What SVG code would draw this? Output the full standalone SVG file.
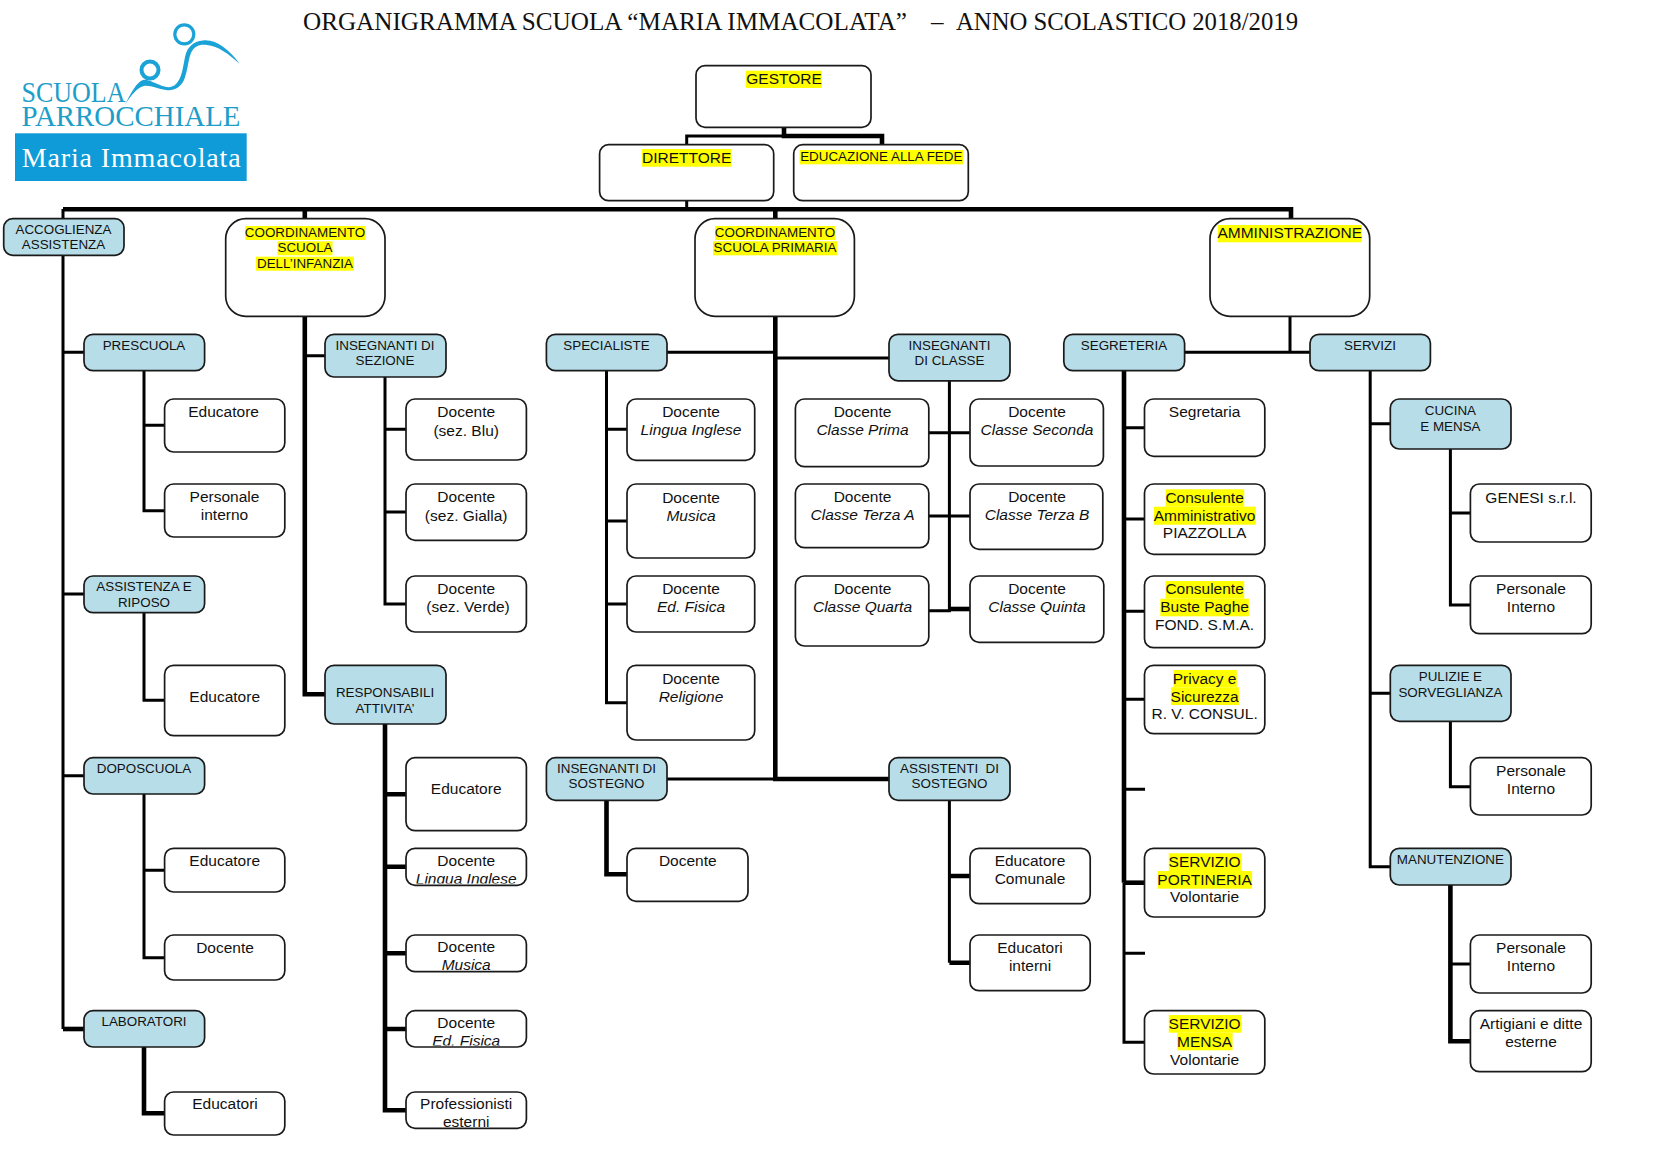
<svg xmlns="http://www.w3.org/2000/svg" width="1654" height="1150" viewBox="0 0 1654 1150">
<style>
text{font-family:"Liberation Sans",Arial,sans-serif;fill:#111;text-anchor:middle}
.w{font-size:15.5px}
.b{font-size:13.4px}
.y{font-size:13.4px}
.i{font-style:italic}
.t{font-family:"Liberation Serif","Times New Roman",serif;font-size:25px;text-anchor:start}
.l{font-family:"Liberation Serif","Times New Roman",serif;text-anchor:start}
rect.n{fill:#fff;stroke:#1a1a1a;stroke-width:1.7;rx:9px}
rect.a{fill:#b7dde8}
rect.r{rx:20px}
rect.h{fill:#ff0}
.c{fill:none;stroke:#000;stroke-width:3}
.k{fill:none;stroke:#000;stroke-width:4.6}
</style>
<defs>
<clipPath id="c1"><rect x="406" y="848" width="120" height="35.5"/></clipPath>
<clipPath id="c2"><rect x="406" y="935" width="120" height="35"/></clipPath>
<clipPath id="c3"><rect x="406" y="1010" width="120" height="35.5"/></clipPath>
</defs>
<g id="title"><text class="t" x="303" y="29.5" textLength="604" lengthAdjust="spacingAndGlyphs">ORGANIGRAMMA SCUOLA “MARIA IMMACOLATA”</text><text class="t" x="931" y="29.5">–</text><text class="t" x="956" y="29.5" textLength="342" lengthAdjust="spacingAndGlyphs">ANNO SCOLASTICO 2018/2019</text></g>
<g id="logo">
<rect x="15" y="133.3" width="231.7" height="47.7" fill="#0f9bd7"/>
<text class="l" x="21.7" y="167.3" font-size="28" style="fill:#fff" textLength="219" lengthAdjust="spacing">Maria Immacolata</text>
<text class="l" x="21.5" y="101.7" font-size="30" style="fill:#1d9ec9" textLength="104" lengthAdjust="spacingAndGlyphs">SCUOLA</text>
<text class="l" x="21.5" y="126" font-size="29" style="fill:#1d9ec9" textLength="219" lengthAdjust="spacingAndGlyphs">PARROCCHIALE</text>
<circle cx="184.3" cy="34.3" r="9.5" fill="none" stroke="#1ba3d8" stroke-width="3.2"/>
<circle cx="150" cy="70" r="8.5" fill="none" stroke="#1ba3d8" stroke-width="4"/>
<path fill="#1ba3d8" d="M239.5 64C230 50 216 39 203 40.5C193 41.5 187 47 185 57C183 67 182 78 176 84C172 88 167 88 160 85C152 82 147 79 143 80C137 82 131 92 125 105C131 95 138 87 144 86C150 85 158 89 166 90C174 91 180 88 184 80C188 70 188 60 191 53C194 46 200 44 207 45C218 46 229 54 239.5 64Z"/>
</g>
<g id="connectors">
<path class="c" d="M686.7 145V136H784M686.7 200V209"/>
<path class="k" d="M784 127V136H882V145"/>
<path class="k" d="M63 209.3H1291V219M304.8 209V219M775.3 209V219"/>
<path class="c" d="M63 209V1029"/>
<path class="k" d="M63 1029H84"/>
<path class="c" d="M63 352.3H84M63 594H84M63 775.7H84"/>
<path class="c" d="M144 370V510.7H165M144 425.3H165M144 612V700.3H165M144 794V957.7H165M144 870.3H165"/>
<path class="k" d="M144 1047V1113.3H165"/>
<path class="k" d="M304.8 316V694.3H325"/>
<path class="c" d="M304.8 355.7H325M385 377V604H406M385 429.3H406M385 512H406"/>
<path class="k" d="M385 724V1110.3H406M385 794.3H406M385 866.7H406M385 953.3H406M385 1029H406"/>
<path class="c" d="M606.5 370V702.7H627M606.5 429.3H627M606.5 521H627M606.5 604H627"/>
<path class="k" d="M606.5 800V874.3H627"/>
<path class="c" d="M667 352.3H775M667 779H775"/>
<path class="k" d="M775.3 316V779H889"/>
<path class="c" d="M775.3 358H889"/>
<path class="c" d="M949.4 381V610.7H929M929 432.7H970M929 516H970"/>
<path class="k" d="M949.4 609H970"/>
<path class="c" d="M949.4 800V962.7"/>
<path class="k" d="M949.4 876H970M949.4 962.7H970"/>
<path class="c" d="M1290 316V352.3M1184.6 352.3H1310"/>
<path class="k" d="M1124 370V882.7"/>
<path class="c" d="M1124 882.7V1042.3H1145M1124 427.7H1145M1124 519H1145M1124 611.3H1145M1124 699.3H1145M1124 789.3H1145M1124 953.3H1145"/>
<path class="k" d="M1124 882.7H1145"/>
<path class="c" d="M1370.2 370V866.7H1391M1370.2 423.7H1391M1370.2 693.3H1391"/>
<path class="c" d="M1450.4 449V605H1471M1450.4 513H1471M1450.4 721V786.7H1471"/>
<path class="k" d="M1450.4 885V1041.3H1471"/>
<path class="c" d="M1450.4 964H1471"/>
</g>
<g id="gestore"><rect class="n" x="696" y="65.7" width="175" height="61.6"/><rect class="h" x="745.8" y="70.7" width="76" height="17.3"/><text class="w" x="784" y="84">GESTORE</text></g>
<g id="direttore"><rect class="n" x="599.6" y="144.7" width="174.1" height="56"/><rect class="h" x="641.9" y="149" width="89.6" height="17.7"/><text class="w" x="686.7" y="163">DIRETTORE</text></g>
<g id="educazione"><rect class="n" x="793.7" y="144.7" width="174.6" height="56"/><rect class="h" x="799.6" y="150" width="163.4" height="14.3"/><text class="y" x="881.3" y="161.3">EDUCAZIONE ALLA FEDE</text></g>
<g id="accoglienza"><rect class="n a" x="3.7" y="218.7" width="120.3" height="36.6"/><text class="b"><tspan x="63.5" y="234">ACCOGLIENZA</tspan><tspan x="63.5" y="249.3">ASSISTENZA</tspan></text></g>
<g id="coord-infanzia"><rect class="n r" x="225.7" y="218.7" width="159.3" height="97.6"/><rect class="h" x="245.3" y="226" width="120.2" height="14"/><rect class="h" x="277.5" y="241.3" width="55" height="14"/><rect class="h" x="256" y="256.7" width="98" height="14"/><text class="b"><tspan x="305" y="237">COORDINAMENTO</tspan><tspan x="305" y="252.3">SCUOLA</tspan><tspan x="305" y="267.7">DELL’INFANZIA</tspan></text></g>
<g id="coord-primaria"><rect class="n r" x="695" y="218.7" width="159.4" height="97.6"/><rect class="h" x="715" y="226" width="120.2" height="14"/><rect class="h" x="713" y="241.3" width="124" height="14"/><text class="b"><tspan x="775" y="237">COORDINAMENTO</tspan><tspan x="775" y="252.3">SCUOLA PRIMARIA</tspan></text></g>
<g id="amministrazione"><rect class="n r" x="1210" y="218.7" width="159.7" height="97.6"/><rect class="h" x="1217.8" y="225" width="144" height="17.3"/><text class="w" x="1289.8" y="238">AMMINISTRAZIONE</text></g>
<g id="prescuola"><rect class="n a" x="84" y="334.3" width="120.6" height="36.4"/><text class="b" x="144" y="349.5">PRESCUOLA</text></g>
<g id="educatore-1"><rect class="n" x="164.6" y="399" width="120.2" height="53"/><text class="w" x="223.6" y="417.3">Educatore</text></g>
<g id="personale-interno"><rect class="n" x="164.6" y="484" width="120.2" height="53"/><text class="w"><tspan x="224.5" y="502">Personale</tspan><tspan x="224.5" y="520.3">interno</tspan></text></g>
<g id="assistenza-riposo"><rect class="n a" x="84" y="576" width="120.6" height="36.7"/><text class="b"><tspan x="144" y="591.2">ASSISTENZA E</tspan><tspan x="144" y="606.5">RIPOSO</tspan></text></g>
<g id="educatore-2"><rect class="n" x="164.6" y="665.3" width="120.2" height="70.4"/><text class="w" x="224.7" y="702">Educatore</text></g>
<g id="doposcuola"><rect class="n a" x="84" y="757.7" width="120.6" height="36.3"/><text class="b" x="144" y="772.8">DOPOSCUOLA</text></g>
<g id="educatore-3"><rect class="n" x="164.6" y="848.3" width="120.2" height="43.7"/><text class="w" x="224.7" y="866.2">Educatore</text></g>
<g id="docente-dopo"><rect class="n" x="164.6" y="935" width="120.2" height="45"/><text class="w" x="225" y="952.7">Docente</text></g>
<g id="laboratori"><rect class="n a" x="84" y="1010.7" width="120.6" height="36.3"/><text class="b" x="144" y="1026">LABORATORI</text></g>
<g id="educatori-lab"><rect class="n" x="164.6" y="1092" width="120.2" height="43"/><text class="w" x="225" y="1109.2">Educatori</text></g>
<g id="insegnanti-sezione"><rect class="n a" x="325" y="334.3" width="121" height="42.7"/><text class="b"><tspan x="385" y="350">INSEGNANTI DI</tspan><tspan x="385" y="365.3">SEZIONE</tspan></text></g>
<g id="sez-blu"><rect class="n" x="406" y="399" width="120.4" height="61"/><text class="w"><tspan x="466.2" y="417.3">Docente</tspan><tspan x="466.2" y="435.5">(sez. Blu)</tspan></text></g>
<g id="sez-gialla"><rect class="n" x="406" y="484" width="120.4" height="56.3"/><text class="w"><tspan x="466.2" y="502.3">Docente</tspan><tspan x="466.2" y="520.5">(sez. Gialla)</tspan></text></g>
<g id="sez-verde"><rect class="n" x="406" y="576" width="120.4" height="56"/><text class="w"><tspan x="466.2" y="594">Docente</tspan><tspan x="468" y="612">(sez. Verde)</tspan></text></g>
<g id="responsabili"><rect class="n a" x="325" y="665.3" width="121" height="58.7"/><text class="b"><tspan x="385" y="697.3">RESPONSABILI</tspan><tspan x="385" y="712.7">ATTIVITA’</tspan></text></g>
<g id="educatore-resp"><rect class="n" x="406" y="757.7" width="120.4" height="73"/><text class="w" x="466.2" y="794">Educatore</text></g>
<g id="resp-inglese"><rect class="n" x="406" y="848.3" width="120.4" height="37"/><text class="w" clip-path="url(#c1)"><tspan x="466.2" y="865.5">Docente</tspan><tspan class="i" x="466.2" y="883.6">Lingua Inglese</tspan></text></g>
<g id="resp-musica"><rect class="n" x="406" y="935" width="120.4" height="36.7"/><text class="w" clip-path="url(#c2)"><tspan x="466.2" y="952.3">Docente</tspan><tspan class="i" x="466.2" y="970.2">Musica</tspan></text></g>
<g id="resp-fisica"><rect class="n" x="406" y="1010.7" width="120.4" height="36.3"/><text class="w" clip-path="url(#c3)"><tspan x="466.2" y="1027.7">Docente</tspan><tspan class="i" x="466.2" y="1045.6">Ed. Fisica</tspan></text></g>
<g id="professionisti"><rect class="n" x="406" y="1092" width="120.4" height="36.3"/><text class="w"><tspan x="466.2" y="1109">Professionisti</tspan><tspan x="466.2" y="1126.7">esterni</tspan></text></g>
<g id="specialiste"><rect class="n a" x="546.4" y="334.3" width="120.6" height="36.4"/><text class="b" x="606.5" y="349.7">SPECIALISTE</text></g>
<g id="spec-inglese"><rect class="n" x="627" y="399" width="127.7" height="61.3"/><text class="w"><tspan x="691" y="417.3">Docente</tspan><tspan class="i" x="691" y="435.4">Lingua Inglese</tspan></text></g>
<g id="spec-musica"><rect class="n" x="627" y="484" width="127.7" height="74"/><text class="w"><tspan x="691" y="502.7">Docente</tspan><tspan class="i" x="691" y="521">Musica</tspan></text></g>
<g id="spec-fisica"><rect class="n" x="627" y="576" width="127.7" height="56"/><text class="w"><tspan x="691" y="594">Docente</tspan><tspan class="i" x="691" y="612">Ed. Fisica</tspan></text></g>
<g id="spec-religione"><rect class="n" x="627" y="665.3" width="127.7" height="74.7"/><text class="w"><tspan x="691" y="684">Docente</tspan><tspan class="i" x="691" y="702">Religione</tspan></text></g>
<g id="insegnanti-sostegno"><rect class="n a" x="546.4" y="757.7" width="120.6" height="42.6"/><text class="b"><tspan x="606.5" y="773">INSEGNANTI DI</tspan><tspan x="606.5" y="788.3">SOSTEGNO</tspan></text></g>
<g id="docente-sostegno"><rect class="n" x="627" y="848.3" width="121" height="53"/><text class="w" x="687.8" y="866.3">Docente</text></g>
<g id="insegnanti-classe"><rect class="n a" x="889" y="334.3" width="121" height="46.5"/><text class="b"><tspan x="949.5" y="350">INSEGNANTI</tspan><tspan x="949.5" y="365.3">DI CLASSE</tspan></text></g>
<g id="classe-prima"><rect class="n" x="795.4" y="399" width="133.4" height="67.7"/><text class="w"><tspan x="862.5" y="417.2">Docente</tspan><tspan class="i" x="862.5" y="435.3">Classe Prima</tspan></text></g>
<g id="classe-seconda"><rect class="n" x="970" y="399" width="133.4" height="67"/><text class="w"><tspan x="1037" y="417.2">Docente</tspan><tspan class="i" x="1037" y="435.3">Classe Seconda</tspan></text></g>
<g id="classe-terza-a"><rect class="n" x="795.4" y="484" width="133.4" height="63.7"/><text class="w"><tspan x="862.5" y="502.2">Docente</tspan><tspan class="i" x="862.5" y="520.3">Classe Terza A</tspan></text></g>
<g id="classe-terza-b"><rect class="n" x="970" y="484" width="132.8" height="65.3"/><text class="w"><tspan x="1037" y="502.2">Docente</tspan><tspan class="i" x="1037" y="520.3">Classe Terza B</tspan></text></g>
<g id="classe-quarta"><rect class="n" x="795.4" y="576" width="133.4" height="70"/><text class="w"><tspan x="862.5" y="594.2">Docente</tspan><tspan class="i" x="862.5" y="612.4">Classe Quarta</tspan></text></g>
<g id="classe-quinta"><rect class="n" x="970" y="576" width="133.8" height="66.3"/><text class="w"><tspan x="1037" y="594.2">Docente</tspan><tspan class="i" x="1037" y="612.4">Classe Quinta</tspan></text></g>
<g id="assistenti-sostegno"><rect class="n a" x="889" y="757.7" width="121" height="42.6"/><text class="b"><tspan x="949.5" y="773" style="white-space:pre">ASSISTENTI  DI</tspan><tspan x="949.5" y="788.3">SOSTEGNO</tspan></text></g>
<g id="educatore-comunale"><rect class="n" x="970" y="848.3" width="120.2" height="55.4"/><text class="w"><tspan x="1030" y="866.3">Educatore</tspan><tspan x="1030" y="884.4">Comunale</tspan></text></g>
<g id="educatori-interni"><rect class="n" x="970" y="935" width="120.2" height="55.7"/><text class="w"><tspan x="1030" y="953">Educatori</tspan><tspan x="1030" y="971">interni</tspan></text></g>
<g id="segreteria"><rect class="n a" x="1063.8" y="334.3" width="120.8" height="36.4"/><text class="b" x="1124" y="349.7">SEGRETERIA</text></g>
<g id="segretaria"><rect class="n" x="1144.5" y="399" width="120.3" height="57.3"/><text class="w" x="1204.6" y="417.3">Segretaria</text></g>
<g id="cons-amm"><rect class="n" x="1144.5" y="484" width="120.3" height="70.3"/><rect class="h" x="1165.6" y="489.3" width="78.6" height="17.4"/><rect class="h" x="1154" y="506.7" width="101.8" height="18"/><text class="w"><tspan x="1204.6" y="502.7">Consulente</tspan><tspan x="1204.6" y="520.5">Amministrativo</tspan><tspan x="1204.6" y="538.3">PIAZZOLLA</tspan></text></g>
<g id="cons-paghe"><rect class="n" x="1144.5" y="576" width="120.3" height="71.7"/><rect class="h" x="1165.6" y="581" width="78.6" height="17.7"/><rect class="h" x="1160.3" y="598.7" width="88.6" height="17.6"/><text class="w"><tspan x="1204.6" y="594.4">Consulente</tspan><tspan x="1204.6" y="612.3">Buste Paghe</tspan><tspan x="1204.6" y="630.3">FOND. S.M.A.</tspan></text></g>
<g id="privacy"><rect class="n" x="1144.5" y="665.3" width="120.3" height="68.4"/><rect class="h" x="1173.5" y="670" width="63.3" height="17.3"/><rect class="h" x="1170.9" y="687.3" width="68" height="17.7"/><text class="w"><tspan x="1204.6" y="683.6">Privacy e</tspan><tspan x="1204.6" y="701.7">Sicurezza</tspan><tspan x="1204.6" y="719.4">R. V. CONSUL.</tspan></text></g>
<g id="portineria"><rect class="n" x="1144.5" y="848.3" width="120.3" height="68.7"/><rect class="h" x="1168.8" y="853.3" width="72.8" height="17.7"/><rect class="h" x="1157.7" y="871" width="94.4" height="17.7"/><text class="w"><tspan x="1204.6" y="867">SERVIZIO</tspan><tspan x="1204.6" y="885">PORTINERIA</tspan><tspan x="1204.6" y="902.4">Volontarie</tspan></text></g>
<g id="mensa"><rect class="n" x="1144.5" y="1010.7" width="120.3" height="63.3"/><rect class="h" x="1168.8" y="1015" width="72.8" height="17.7"/><rect class="h" x="1177.2" y="1032.7" width="55.4" height="17.6"/><text class="w"><tspan x="1204.6" y="1029">SERVIZIO</tspan><tspan x="1204.6" y="1047">MENSA</tspan><tspan x="1204.6" y="1065">Volontarie</tspan></text></g>
<g id="servizi"><rect class="n a" x="1310" y="334.3" width="120.4" height="36.4"/><text class="b" x="1370" y="349.7">SERVIZI</text></g>
<g id="cucina"><rect class="n a" x="1390.3" y="399" width="120.7" height="50"/><text class="b"><tspan x="1450.4" y="415.3">CUCINA</tspan><tspan x="1450.4" y="430.7">E MENSA</tspan></text></g>
<g id="genesi"><rect class="n" x="1470.4" y="484" width="120.8" height="58"/><text class="w" x="1531" y="502.7">GENESI s.r.l.</text></g>
<g id="personale-cucina"><rect class="n" x="1470.4" y="576" width="120.8" height="57.7"/><text class="w"><tspan x="1531" y="594">Personale</tspan><tspan x="1531" y="612.3">Interno</tspan></text></g>
<g id="pulizie"><rect class="n a" x="1390.3" y="665.3" width="120.7" height="56"/><text class="b"><tspan x="1450.4" y="681.3">PULIZIE E</tspan><tspan x="1450.4" y="697">SORVEGLIANZA</tspan></text></g>
<g id="personale-pulizie"><rect class="n" x="1470.4" y="757.7" width="120.8" height="57.3"/><text class="w"><tspan x="1531" y="776">Personale</tspan><tspan x="1531" y="794">Interno</tspan></text></g>
<g id="manutenzione"><rect class="n a" x="1390.3" y="848.3" width="120.7" height="36.7"/><text class="b" x="1450.4" y="864">MANUTENZIONE</text></g>
<g id="personale-manut"><rect class="n" x="1470.4" y="935" width="120.8" height="58"/><text class="w"><tspan x="1531" y="953.3">Personale</tspan><tspan x="1531" y="971.3">Interno</tspan></text></g>
<g id="artigiani"><rect class="n" x="1470.4" y="1010.7" width="120.8" height="61"/><text class="w"><tspan x="1531" y="1029">Artigiani e ditte</tspan><tspan x="1531" y="1047">esterne</tspan></text></g>
</svg>
